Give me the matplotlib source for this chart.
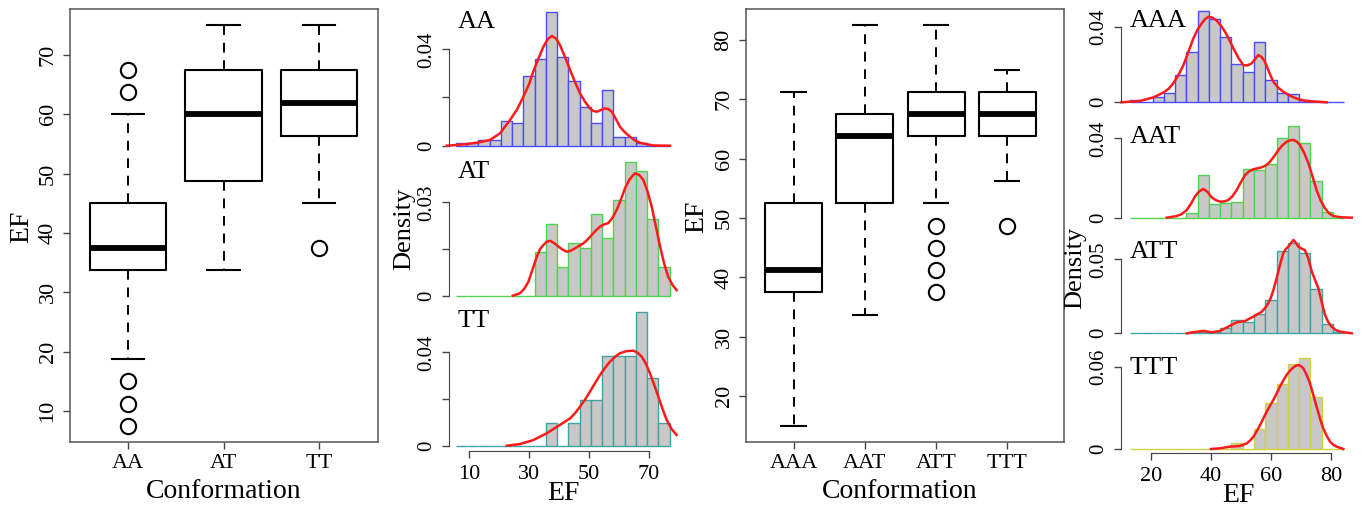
import matplotlib.pyplot as plt

plt.rcParams['font.family'] = ['Liberation Serif', 'DejaVu Serif']

W, H = 1363, 512

# ---- boxplot summaries, EF comes in steps of 3.75 ----
dimer_labels = ['AA', 'AT', 'TT']
dimer_whislo = [18.75, 33.75, 45.0]
dimer_q1 = [33.75, 48.75, 56.25]
dimer_med = [37.5, 60.0, 61.875]
dimer_q3 = [45.0, 67.5, 67.5]
dimer_whishi = [60.0, 75.0, 75.0]
dimer_fliers = [[7.5, 11.25, 15.0, 63.75, 67.5], [], [37.5]]

trimer_labels = ['AAA', 'AAT', 'ATT', 'TTT']
trimer_whislo = [15.0, 33.75, 52.5, 56.25]
trimer_q1 = [37.5, 52.5, 63.75, 63.75]
trimer_med = [41.25, 63.75, 67.5, 67.5]
trimer_q3 = [52.5, 67.5, 71.25, 71.25]
trimer_whishi = [71.25, 82.5, 82.5, 75.0]
trimer_fliers = [[], [], [37.5, 41.25, 45.0, 48.75], [48.75]]

# ---- histograms (bin centres, densities) ----
dimer_bins = [7.5, 11.25, 15, 18.75, 22.5, 26.25, 30, 33.75, 37.5, 41.25,
              45, 48.75, 52.5, 56.25, 60, 63.75, 67.5, 71.25, 75]
hist_AA = [0.0010, 0.0012, 0.0024, 0.0024, 0.0104, 0.0093, 0.0289, 0.0358, 0.0554, 0.0370,
           0.0267, 0.0162, 0.0093, 0.0231, 0.0037, 0.0037, 0.0010, 0, 0]
hist_AT = [0, 0, 0, 0, 0, 0, 0, 0.0139, 0.0230, 0.0093,
           0.0168, 0.0154, 0.0261, 0.0184, 0.0308, 0.0429, 0.0400, 0.0245, 0.0093]
hist_TT = [0, 0, 0, 0, 0, 0, 0, 0, 0.0096, 0,
           0.0096, 0.0196, 0.0196, 0.0384, 0.0384, 0.0384, 0.0574, 0.0289, 0.0096]

trimer_bins = [15, 18.75, 22.5, 26.25, 30, 33.75, 37.5, 41.25, 45, 48.75,
               52.5, 56.25, 60, 63.75, 67.5, 71.25, 75, 78.75, 82.5]
hist_AAA = [0.0010, 0, 0.0030, 0.0048, 0.0144, 0.0264, 0.0485, 0.0441, 0.0347, 0.0201,
            0.0160, 0.0317, 0.0118, 0.0051, 0.0044, 0.0010, 0, 0, 0]
hist_AAT = [0, 0, 0, 0, 0, 0.0022, 0.0215, 0.0067, 0.0072, 0.0081,
            0.0247, 0.0240, 0.0271, 0.0400, 0.0464, 0.0378, 0.0185, 0.0027, 0]
hist_ATT = [0, 0, 0, 0, 0, 0, 0.0011, 0.0011, 0.0038, 0.0090,
            0.0079, 0.0128, 0.0225, 0.0556, 0.0608, 0.0541, 0.0297, 0.0063, 0.0011]
hist_TTT = [0, 0, 0, 0, 0, 0, 0, 0, 0, 0.0046,
            0, 0.0143, 0.0333, 0.0474, 0.0619, 0.0661, 0.0376, 0, 0]

# ---- density curves ----
kde_AA_x = [2.6, 6.0, 9.2, 13.0, 17.0, 20.3, 23.7, 26.0, 28.1, 30.0, 31.4, 33.1, 34.8, 36.3,
            37.6, 39.0, 40.3, 42.0, 43.7, 45.3, 47.0, 48.7, 50.3, 51.5, 52.6, 54.0, 55.3,
            56.5, 57.6, 59.0, 60.3, 62.0, 63.7, 65.3, 67.0, 71.4, 77.0]
kde_AA_y = [0, 0.0003, 0.0007, 0.0013, 0.0024, 0.0051, 0.0107, 0.0150, 0.0203, 0.0255, 0.0307,
            0.0360, 0.0411, 0.0443, 0.0455, 0.0445, 0.0418, 0.0368, 0.0314, 0.0265, 0.0217,
            0.0182, 0.0155, 0.0144, 0.0141, 0.0148, 0.0155, 0.0152, 0.0141, 0.0110, 0.0079,
            0.0055, 0.0037, 0.0022, 0.0012, 0.0001, 0]
kde_AT_x = [24.6, 27.0, 28.4, 29.8, 31.2, 32.6, 33.7, 34.8, 36.0, 37.2, 38.5, 39.8, 41.2, 42.6,
            44.0, 45.3, 46.7, 48.1, 49.5, 50.9, 52.3, 53.7, 55.0, 56.4, 57.8, 59.2, 60.6,
            62.0, 63.6, 65.3, 66.7, 68.1, 69.5, 70.9, 72.3, 73.7, 75.0, 76.4, 77.8, 79.2]
kde_AT_y = [0, 0.0008, 0.0022, 0.0045, 0.0085, 0.0125, 0.0150, 0.0163, 0.0174, 0.0176, 0.0168,
            0.0158, 0.0148, 0.0141, 0.0145, 0.0152, 0.0160, 0.0168, 0.0180, 0.0195, 0.0210,
            0.0222, 0.0229, 0.0233, 0.0250, 0.0275, 0.0308, 0.0345, 0.0375, 0.0393, 0.0388,
            0.0372, 0.0335, 0.0286, 0.0222, 0.0158, 0.0105, 0.0061, 0.0035, 0.0018]
kde_TT_x = [22.6, 27.0, 31.4, 35.9, 40.3, 43.7, 45.4, 47.0, 48.7, 50.3, 52.0, 53.7, 55.3, 57.0,
            58.7, 60.3, 62.5, 64.8, 66.2, 67.6, 69.0, 70.3, 71.7, 73.1, 74.5, 75.9, 77.5, 79.2]
kde_TT_y = [0, 0.0007, 0.0024, 0.0053, 0.0089, 0.0117, 0.0140, 0.0167, 0.0198, 0.0231, 0.0268,
            0.0303, 0.0333, 0.0360, 0.0381, 0.0396, 0.0405, 0.0407, 0.0398, 0.0381, 0.0350,
            0.0310, 0.0262, 0.0210, 0.0158, 0.0110, 0.0072, 0.0046]

kde_AAA_x = [10.3, 16.4, 20.9, 24.2, 26.0, 27.5, 29.2, 30.9, 32.5, 34.2, 35.6, 37.0, 38.1, 39.2,
             40.6, 42.0, 43.4, 44.7, 46.1, 47.5, 49.2, 50.8, 52.2, 53.6, 54.7, 55.8, 56.9,
             58.0, 59.4, 60.8, 62.4, 64.1, 65.8, 67.5, 69.7, 71.9, 78.6]
kde_AAA_y = [0, 0.0007, 0.0026, 0.0051, 0.0072, 0.0100, 0.0143, 0.0197, 0.0265, 0.0338, 0.0385,
             0.0418, 0.0440, 0.0453, 0.0447, 0.0432, 0.0405, 0.0374, 0.0332, 0.0286, 0.0235,
             0.0197, 0.0195, 0.0206, 0.0228, 0.0250, 0.0240, 0.0215, 0.0160, 0.0109, 0.0078,
             0.0056, 0.0040, 0.0026, 0.0014, 0.0007, 0]
kde_AAT_x = [25.3, 28.6, 30.3, 32.0, 33.4, 34.7, 36.1, 37.5, 38.9, 40.3, 41.7, 43.1, 44.5, 45.8,
             47.2, 48.6, 50.0, 51.4, 52.8, 54.2, 55.6, 57.0, 58.4, 59.7, 61.1, 62.5, 63.9,
             65.3, 66.4, 67.5, 68.6, 69.7, 71.1, 72.5, 73.9, 75.2, 76.6, 78.0, 79.4, 80.8,
             83.5, 86.9]
kde_AAT_y = [0, 0.0008, 0.0018, 0.0039, 0.0070, 0.0106, 0.0132, 0.0145, 0.0130, 0.0103, 0.0088,
             0.0081, 0.0082, 0.0089, 0.0108, 0.0139, 0.0178, 0.0215, 0.0234, 0.0244, 0.0249,
             0.0254, 0.0264, 0.0282, 0.0310, 0.0341, 0.0366, 0.0383, 0.0390, 0.0392, 0.0383,
             0.0366, 0.0325, 0.0274, 0.0205, 0.0139, 0.0085, 0.0047, 0.0022, 0.0008, 0.0002, 0]
kde_ATT_x = [32.0, 34.7, 37.5, 40.3, 43.1, 45.8, 48.6, 51.4, 54.2, 57.0, 58.4, 59.7, 60.8, 61.9,
             63.0, 64.1, 65.0, 65.8, 66.7, 67.5, 68.3, 69.1, 70.2, 71.3, 72.4, 73.6, 74.7,
             75.8, 76.9, 78.0, 79.1, 80.2, 81.6, 83.0, 86.9]
kde_ATT_y = [0, 0.0009, 0.0016, 0.0007, 0.0016, 0.0045, 0.0074, 0.0083, 0.0113, 0.0146, 0.0180,
             0.0225, 0.0290, 0.0372, 0.0460, 0.0541, 0.0570, 0.0586, 0.0610, 0.0631, 0.0612,
             0.0586, 0.0572, 0.0563, 0.0510, 0.0417, 0.0360, 0.0304, 0.0210, 0.0124, 0.0075,
             0.0045, 0.0022, 0.0011, 0]
kde_TTT_x = [40.0, 43.1, 46.4, 49.7, 52.0, 53.1, 54.2, 55.3, 56.4, 57.5, 58.6, 59.7, 60.8, 61.9,
             63.0, 64.1, 65.2, 66.4, 67.5, 68.3, 69.1, 70.0, 70.8, 71.9, 73.0, 74.1, 75.2,
             76.3, 77.4, 78.6, 79.7, 80.8, 81.9, 84.1]
kde_TTT_y = [0, 0.0005, 0.0017, 0.0022, 0.0041, 0.0062, 0.0090, 0.0130, 0.0175, 0.0224, 0.0272,
             0.0315, 0.0357, 0.0405, 0.0454, 0.0498, 0.0539, 0.0572, 0.0595, 0.0607, 0.0612,
             0.0604, 0.0588, 0.0540, 0.0479, 0.0395, 0.0309, 0.0225, 0.0151, 0.0095, 0.0053,
             0.0030, 0.0017, 0]

fig = plt.figure(figsize=(W / 100, H / 100), dpi=100)


# place an axes by pixel box (x0, y0 top, x1, y1 bottom)
def px_axes(x0, y0, x1, y1):
    ax = fig.add_axes([x0 / W, 1 - y1 / H, (x1 - x0) / W, (y1 - y0) / H])
    ax.patch.set_visible(False)
    return ax


def px_text(x, y, s, **kw):
    fig.text(x / W, 1 - y / H, s, **kw)


def draw_box(ax, labels, lo, q1, med, q3, hi, fliers, xlim, ylim, yticks):
    stats = [dict(label=l, whislo=a, q1=b, med=c, q3=d, whishi=e, fliers=f)
             for l, a, b, c, d, e, f in zip(labels, lo, q1, med, q3, hi, fliers)]
    ax.bxp(stats, positions=range(1, len(labels) + 1), widths=0.8, capwidths=0.34,
           boxprops=dict(color='black', lw=1.5),
           whiskerprops=dict(color='black', lw=1.4, linestyle=(0, (5, 4))),
           capprops=dict(color='black', lw=1.5),
           medianprops=dict(color='black', lw=4.2, solid_capstyle='butt'),
           flierprops=dict(marker='o', mfc='none', mec='black', ms=11, mew=1.5))
    ax.set_xlim(*xlim)
    ax.set_ylim(*ylim)
    ax.set_yticks(yticks)
    ax.set_yticklabels([str(t) for t in yticks], rotation=90, va='center')
    for sp in ax.spines.values():
        sp.set_color('#555555')
        sp.set_linewidth(1.1)
    ax.tick_params(length=5, width=1.0, color='#444444', labelsize=16, pad=4)


def draw_hist(ax, bins, dens, kx, ky, edge, xlim, cal, ticks, bottom_axis=None):
    zero_px, ref_px, ref_val, top_px, bot_px = cal
    s = ref_val / (zero_px - ref_px)
    ax.set_ylim(-(bot_px - zero_px) * s, (zero_px - top_px) * s)
    ax.set_xlim(*xlim)
    ax.bar(bins, dens, width=3.75, color='#c8c8c8', edgecolor=edge, lw=1.0, clip_on=False)
    ax.plot(kx, ky, color='#ff1a1a', lw=1.8, clip_on=False)
    for side in ['top', 'right', 'bottom']:
        ax.spines[side].set_visible(False)
    ax.spines['left'].set_bounds(0, ticks[-1])
    ax.spines['left'].set_color('#444444')
    ax.set_yticks(ticks)
    ax.set_yticklabels(['0'] + [''] * (len(ticks) - 2) + [('%g' % ticks[-1])],
                       rotation=90, va='center')
    ax.tick_params(axis='y', length=5, width=1.0, color='#444444', labelsize=15, pad=4)
    if bottom_axis is None:
        ax.set_xticks([])
    else:
        ax.spines['bottom'].set_visible(True)
        ax.spines['bottom'].set_color('#444444')
        ax.spines['bottom'].set_bounds(bottom_axis[0], bottom_axis[-1])
        ax.set_xticks(bottom_axis)
        ax.tick_params(axis='x', length=5, width=1.0, color='#444444', labelsize=16, pad=5)


# ---- left boxplot ----
ax1 = px_axes(70, 9, 378, 442)
draw_box(ax1, dimer_labels, dimer_whislo, dimer_q1, dimer_med, dimer_q3, dimer_whishi,
         dimer_fliers, (0.39, 3.62), (4.8, 77.7), [10, 20, 30, 40, 50, 60, 70])
px_text(224, 491, 'Conformation', fontsize=20, ha='center', va='center')
px_text(22, 227, 'EF', fontsize=20, ha='center', va='center', rotation=90)

# ---- left histogram column ----
blue, green, teal, yellow = '#4b4bff', '#4fd44f', '#3fa3a3', '#d2d23c'
xl = (3.33, 81.0)
ax = px_axes(449, 5, 682, 151)
draw_hist(ax, dimer_bins, hist_AA, kde_AA_x, kde_AA_y, blue, xl,
          (145.7, 49.3, 0.04, 5, 151), [0, 0.02, 0.04])
ax = px_axes(449, 155, 682, 301)
draw_hist(ax, dimer_bins, hist_AT, kde_AT_x, kde_AT_y, green, xl,
          (295.7, 202.3, 0.03, 155, 301), [0, 0.015, 0.03])
ax = px_axes(449, 305, 682, 451)
draw_hist(ax, dimer_bins, hist_TT, kde_TT_x, kde_TT_y, teal, xl,
          (445.7, 352.3, 0.04, 305, 451), [0, 0.02, 0.04], bottom_axis=[10, 30, 50, 70])
for name, y in zip(dimer_labels, [22, 172, 321]):
    px_text(458, y, name, fontsize=19, ha='left', va='center')
px_text(404, 229, 'Density', fontsize=19, ha='center', va='center', rotation=90)
px_text(563, 493, 'EF', fontsize=20, ha='center', va='center')

# ---- right boxplot ----
ax2 = px_axes(746, 9, 1064, 442)
draw_box(ax2, trimer_labels, trimer_whislo, trimer_q1, trimer_med, trimer_q3, trimer_whishi,
         trimer_fliers, (0.333, 4.795), (12.3, 85.2), [20, 30, 40, 50, 60, 70, 80])
px_text(900, 492, 'Conformation', fontsize=20, ha='center', va='center')
px_text(697, 217, 'EF', fontsize=20, ha='center', va='center', rotation=90)

# ---- right histogram column ----
xr = (10.12, 89.65)
ax = px_axes(1121, 3, 1360, 107.5)
draw_hist(ax, trimer_bins, hist_AAA, kde_AAA_x, kde_AAA_y, blue, xr,
          (102.3, 26.7, 0.04, 3, 107.5), [0, 0.04])
ax = px_axes(1121, 118, 1360, 223)
draw_hist(ax, trimer_bins, hist_AAT, kde_AAT_x, kde_AAT_y, green, xr,
          (217.7, 138.3, 0.04, 118, 223), [0, 0.04])
ax = px_axes(1121, 233, 1360, 338.5)
draw_hist(ax, trimer_bins, hist_ATT, kde_ATT_x, kde_ATT_y, teal, xr,
          (333.3, 259.3, 0.05, 233, 338.5), [0, 0.05])
ax = px_axes(1121, 348, 1360, 453.3)
draw_hist(ax, trimer_bins, hist_TTT, kde_TTT_x, kde_TTT_y, yellow, xr,
          (449.0, 366.7, 0.06, 348, 453.3), [0, 0.06], bottom_axis=[20, 40, 60, 80])
for name, y in zip(trimer_labels, [21, 137, 252, 368]):
    px_text(1130, y, name, fontsize=19, ha='left', va='center')
px_text(1075, 268, 'Density', fontsize=19, ha='center', va='center', rotation=90)
px_text(1238, 495, 'EF', fontsize=20, ha='center', va='center')

fig.savefig('out.png', dpi=100)
